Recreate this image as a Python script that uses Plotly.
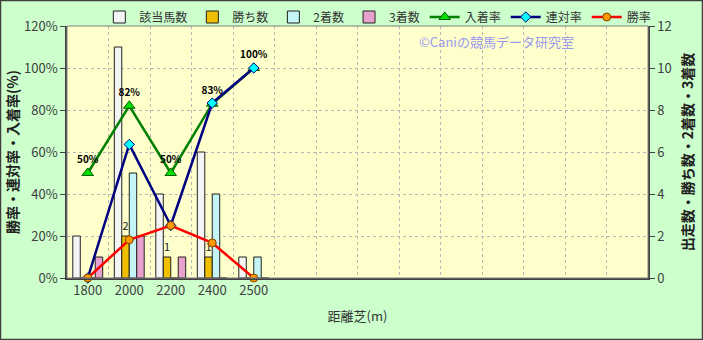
import plotly.graph_objects as go

categories = ["1800", "2000", "2200", "2400", "2500"]
n_slots = 14  # category slots along the axis (only first five used)

runners = [2, 11, 4, 6, 1]      # 該当馬数
wins = [0, 2, 1, 1, 0]          # 勝ち数
seconds = [0, 5, 0, 4, 1]       # 2着数
thirds = [1, 2, 1, 0, 0]        # 3着数

place_rate = [50, 82, 50, 83, 100]     # 入着率
quinella_rate = [0, 63.6, 25, 83.3, 100]  # 連対率
win_rate = [0, 18.2, 25, 16.7, 0]      # 勝率

W, H = 703, 340
ML, MR, MT, MB = 67, 55, 26, 62
FONT = "Noto Sans CJK JP"
xs = list(range(len(categories)))

fig = go.Figure()

bar_specs = [
    ("該当馬数", runners, "#f4f4f4"),
    ("勝ち数", wins, "#f0c000"),
    ("2着数", seconds, "#c4f4f4"),
    ("3着数", thirds, "#e8a0cc"),
]
for name, vals, col in bar_specs:
    kw = {}
    if name == "勝ち数":
        kw = dict(text=[str(v) if v else "" for v in vals], textposition="outside",
                  textfont=dict(size=11, color="#202020", family=FONT), cliponaxis=False)
    fig.add_trace(go.Bar(x=xs, y=vals, name=name, marker=dict(color=col, line=dict(color="#202020", width=1)),
                         yaxis="y", **kw))

fig.add_trace(go.Scatter(x=xs, y=place_rate, name="入着率", yaxis="y2", mode="lines+markers+text",
                         line=dict(color="#008000", width=2.5),
                         marker=dict(symbol="triangle-up", size=10, color="#00dd00", line=dict(color="#006000", width=1)),
                         texttemplate="%{y:.0f}%", textposition="top center",
                         textfont=dict(size=10, color="#000000", family=FONT, weight="bold"), cliponaxis=False))
fig.add_trace(go.Scatter(x=xs, y=quinella_rate, name="連対率", yaxis="y2", mode="lines+markers",
                         line=dict(color="#000080", width=2.5),
                         marker=dict(symbol="diamond", size=8, color="#00ffff", line=dict(color="#000080", width=1)),
                         cliponaxis=False))
fig.add_trace(go.Scatter(x=xs, y=win_rate, name="勝率", yaxis="y2", mode="lines+markers",
                         line=dict(color="#ff0000", width=2.5),
                         marker=dict(symbol="circle", size=8, color="#ff9900", line=dict(color="#804000", width=1)),
                         cliponaxis=False))

pw = W - ML - MR
ph = H - MT - MB

fig.update_layout(
    width=W, height=H,
    margin=dict(l=ML, r=MR, t=MT, b=MB, pad=0, autoexpand=False),
    paper_bgcolor="#ccffcc", plot_bgcolor="#ffffcc",
    font=dict(family=FONT, size=12, color="#333333"),
    barmode="group", bargap=0.28, bargroupgap=0,
    showlegend=True,
    legend=dict(orientation="h", x=0.535, xanchor="center", y=1 + 9 / ph, yanchor="middle",
                bgcolor="rgba(0,0,0,0)", font=dict(size=12, color="#333333", family=FONT),
                traceorder="normal", itemwidth=30, tracegroupgap=0),
    xaxis=dict(range=[-0.5, n_slots - 0.5], tickmode="array", tickvals=xs, ticktext=categories,
               showgrid=False, showline=True, linecolor="#404040", linewidth=1.5, mirror=False,
               ticks="", tickfont=dict(size=13, color="#404040"),
               minor=dict(tickmode="linear", tick0=0.5, dtick=1, showgrid=True, gridcolor="#b8b8b8",
                          griddash="dot", gridwidth=1, ticks=""),
               title=dict(text="距離芝(m)", font=dict(size=13, color="#333333"), standoff=14),
               zeroline=False),
    yaxis=dict(range=[0, 12], dtick=2, side="right", showgrid=True, gridcolor="#b8b8b8", griddash="dot",
               showline=True, linecolor="#404040", linewidth=1.5, ticks="outside", ticklen=5,
               tickcolor="#404040", tickfont=dict(size=13, color="#404040"), zeroline=False,
               title=dict(text="出走数・勝ち数・2着数・3着数", font=dict(size=14, color="#202020", weight="bold"),
                          standoff=12)),
    yaxis2=dict(range=[0, 120], dtick=20, side="left", overlaying="y", showgrid=False,
                showline=True, linecolor="#404040", linewidth=1.5, ticks="outside", ticklen=5,
                tickcolor="#404040", ticksuffix="%", tickfont=dict(size=13, color="#404040"), zeroline=False,
                title=dict(text="勝率・連対率・入着率(%)", font=dict(size=14, color="#202020", weight="bold"),
                           standoff=2)),
    annotations=[dict(text="©Caniの競馬データ研究室", xref="paper", yref="paper", x=0.74, y=0.985,
                      xanchor="center", yanchor="top", showarrow=False,
                      font=dict(size=13, color="#9999ee", family=FONT))],
    shapes=[
        dict(type="rect", xref="paper", yref="paper", x0=0, x1=1, y0=0, y1=1,
             line=dict(color="#808080", width=1), layer="above"),
        dict(type="rect", xref="paper", yref="paper",
             x0=-ML / pw + 0.5 / pw, x1=1 + (MR - 0.5) / pw,
             y0=-MB / ph + 0.5 / ph, y1=1 + (MT - 0.5) / ph,
             line=dict(color="#404040", width=1.5)),
    ],
)

fig.write_html("out.html")
